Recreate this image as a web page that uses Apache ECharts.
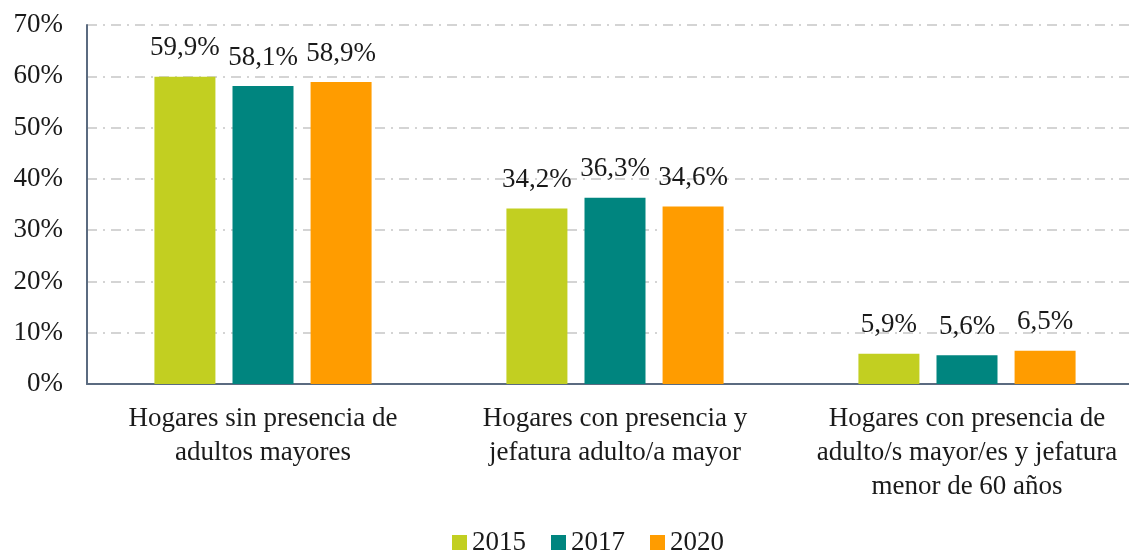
<!DOCTYPE html>
<html>
<head>
    <meta charset="utf-8">
    <title>Hogares</title>
    <script src="https://cdn.jsdelivr.net/npm/echarts@6/dist/echarts.min.js"></script>
    <style type="text/css">
        html, body { margin: 0; padding: 0; background: #fff; }
        #chart { width: 1129px; height: 550px; }
    </style>
</head>
<body>
    <div id="chart"></div>
    <script type="text/javascript">
        var categories = [
            'Hogares sin presencia de\nadultos mayores',
            'Hogares con presencia y\njefatura adulto/a mayor',
            'Hogares con presencia de\nadulto/s mayor/es y jefatura\nmenor de 60 años'
        ];
        var years = ['2015', '2017', '2020'];
        var values2015 = [59.9, 34.2, 5.9];
        var values2017 = [58.1, 36.3, 5.6];
        var values2020 = [58.9, 34.6, 6.5];
        var colors = ['#C2CF21', '#00857F', '#FF9C00'];

        var fontFam = '"Liberation Serif", "DejaVu Serif", serif';

        function fmt(v) {
            return v.toFixed(1).replace('.', ',') + '%';
        }

        function makeSeries(name, data, color) {
            return {
                name: name,
                type: 'bar',
                data: data,
                barWidth: 61,
                barGap: '28%',
                itemStyle: { color: color },
                label: {
                    show: true,
                    position: 'top',
                    distance: 15,
                    color: '#1a1a1a',
                    fontSize: 27,
                    fontFamily: fontFam,
                    formatter: function (p) { return fmt(p.value); }
                }
            };
        }

        var chart = echarts.init(document.getElementById('chart'));
        chart.setOption({
            animation: false,
            color: colors,
            grid: {
                left: 87, top: 25, width: 1056, height: 359,
                containLabel: false, outerBoundsMode: 'none'
            },
            legend: {
                bottom: -11,
                left: 447,
                itemWidth: 15,
                itemHeight: 15,
                itemGap: 25,
                icon: 'rect',
                textStyle: { fontSize: 27, fontFamily: fontFam, color: '#1a1a1a' },
                data: years
            },
            xAxis: {
                type: 'category',
                data: categories,
                axisLine: { lineStyle: { color: '#5b6b80', width: 2 } },
                axisTick: { show: false },
                axisLabel: {
                    fontSize: 27,
                    fontFamily: fontFam,
                    color: '#1a1a1a',
                    lineHeight: 34,
                    margin: 18,
                    interval: 0
                }
            },
            yAxis: {
                type: 'value',
                min: 0,
                max: 70,
                interval: 10,
                axisLine: { show: true, lineStyle: { color: '#5b6b80', width: 2 } },
                axisTick: { show: false },
                axisLabel: {
                    fontSize: 27,
                    fontFamily: fontFam,
                    color: '#1a1a1a',
                    margin: 24,
                    formatter: '{value}%'
                },
                splitLine: {
                    lineStyle: { color: '#d4d4d4', width: 2, type: [10, 6, 2, 6] }
                }
            },
            series: [
                makeSeries(years[0], values2015, colors[0]),
                makeSeries(years[1], values2017, colors[1]),
                makeSeries(years[2], values2020, colors[2])
            ]
        });
    </script>
</body>
</html>
